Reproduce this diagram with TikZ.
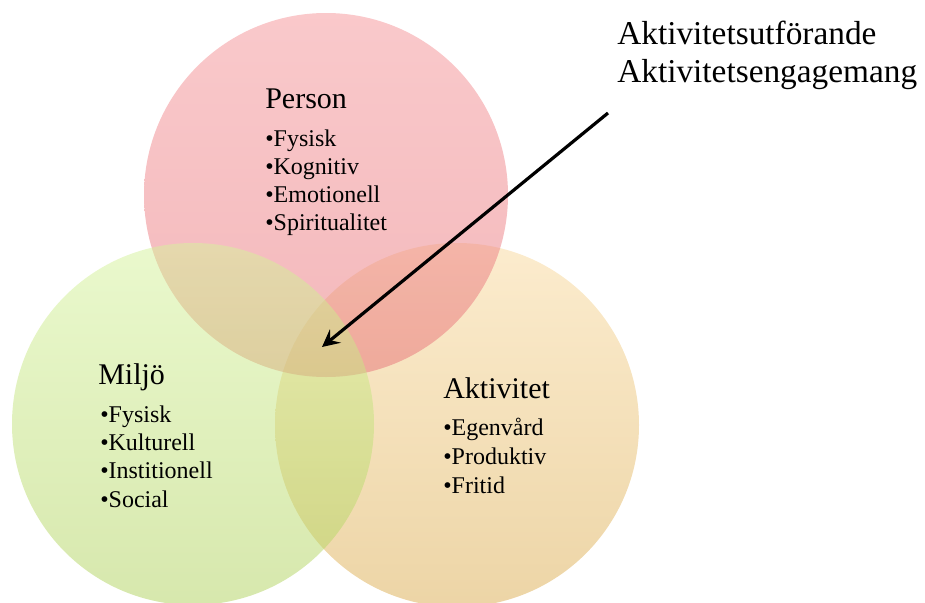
\documentclass[tikz,border=0pt]{standalone}
\usepackage{fontspec}
\setmainfont{Liberation Serif}
\usetikzlibrary{arrows.meta}

\definecolor{pinktop}{RGB}{245,147,151}
\definecolor{pinkbot}{RGB}{231,113,119}
\definecolor{greentop}{RGB}{213,243,155}
\definecolor{greenbot}{RGB}{175,209,91}
\definecolor{orangetop}{RGB}{249,217,157}
\definecolor{orangebot}{RGB}{219,171,77}

\tikzset{
  venn/.style={fill opacity=0.5, draw=none},
  heading/.style={anchor=base west, inner sep=0pt, font=\fontsize{22.5}{27}\selectfont},
  item/.style={anchor=base west, inner sep=0pt, font=\fontsize{18}{21}\selectfont},
  callout/.style={anchor=base west, inner sep=0pt, font=\fontsize{25}{28}\selectfont}
}

\begin{document}
\begin{tikzpicture}[x=0.75pt,y=-0.75pt]
  \useasboundingbox (0,0) rectangle (925,603);

  % the three circles (Aktivitet, Person, Miljo)
  \shade[venn, top color=orangetop, bottom color=orangebot] (457,425) circle (182);
  \shade[venn, top color=pinktop, bottom color=pinkbot] (326,195) circle (182);
  \shade[venn, top color=greentop, bottom color=greenbot] (193,424) circle (181);

  % Person
  \node[heading] (person) at (265,108) {Person};
  \foreach \txt [count=\i] in {Fysisk, Kognitiv, Emotionell, Spiritualitet}
    \node[item] (person-\i) at (265,118+28*\i) {•\txt};

  % Miljo
  \node[heading] (miljo) at (98,384) {Miljö};
  \foreach \txt [count=\i] in {Fysisk, Kulturell, Institionell, Social}
    \node[item] (miljo-\i) at (100,394+28.3*\i) {•\txt};

  % Aktivitet
  \node[heading] (aktivitet) at (443,398) {Aktivitet};
  \foreach \txt [count=\i] in {Egenvård, Produktiv, Fritid}
    \node[item] (aktivitet-\i) at (443,406+29*\i) {•\txt};

  % text top right and the arrow into the middle
  \node[callout] (utforande) at (617,45) {Aktivitetsutförande};
  \node[callout] (engagemang) at (617,82) {Aktivitetsengagemang};
  \coordinate (tail) at (608,113);
  \coordinate (core) at (322,347);
  \draw[line width=2.4pt, -{Stealth[length=13pt, width=13pt, inset=5pt]}] (tail) -- (core);
\end{tikzpicture}
\end{document}
